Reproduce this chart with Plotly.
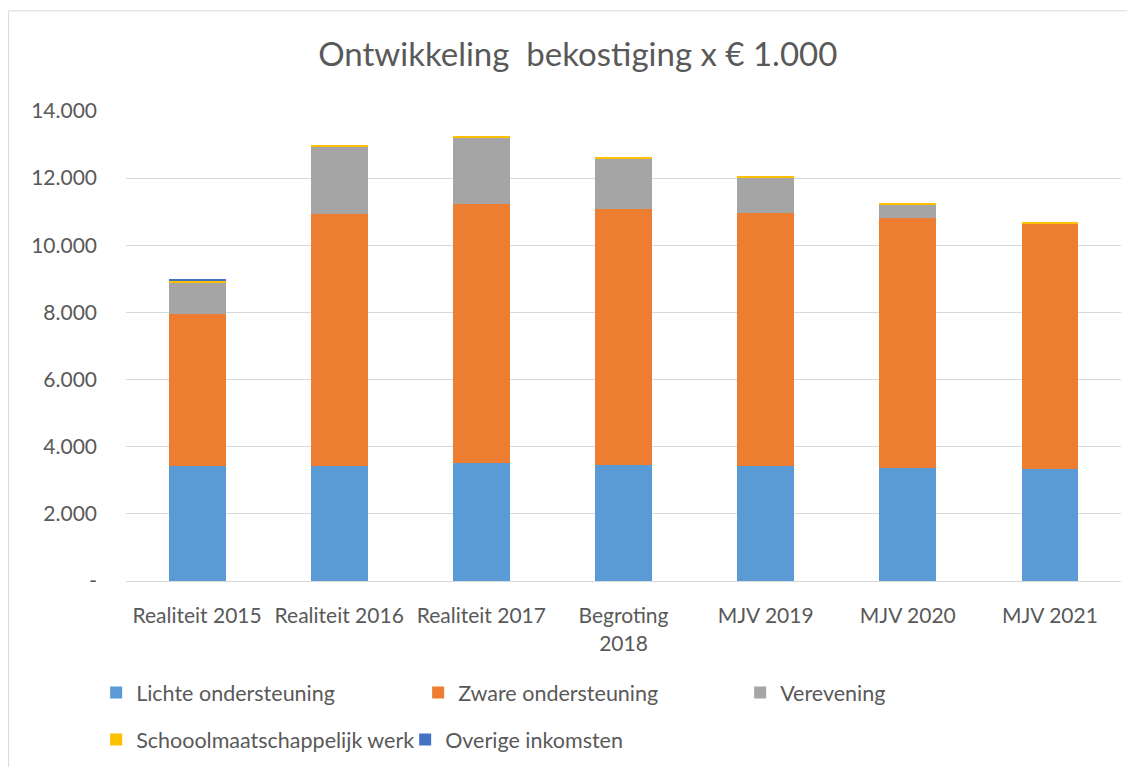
import plotly.graph_objects as go

categories = ["Realiteit 2015", "Realiteit 2016", "Realiteit 2017", "Begroting<br>2018",
              "MJV 2019", "MJV 2020", "MJV 2021"]
lichte = [3425, 3425, 3505, 3465, 3415, 3375, 3325]
zware = [4525, 7505, 7715, 7605, 7555, 7425, 7325]
verevening = [950, 2000, 1980, 1500, 1040, 400, 0]
smw = [50, 70, 70, 60, 40, 40, 40]
overige = [60, 0, 0, 0, 0, 0, 0]

tick_vals = [0, 2000, 4000, 6000, 8000, 10000, 12000, 14000]
tick_text = ["-", "2.000", "4.000", "6.000", "8.000", "10.000", "12.000", "14.000"]

series = [
    ("Lichte ondersteuning", lichte, "#5B9BD5", "legend"),
    ("Zware ondersteuning", zware, "#ED7D31", "legend"),
    ("Verevening", verevening, "#A5A5A5", "legend"),
    ("Schooolmaatschappelijk werk", smw, "#FFC000", "legend2"),
    ("Overige inkomsten", overige, "#4472C4", "legend2"),
]

FONT = "Lato, 'Open Sans', sans-serif"
TXT = "#595959"

fig = go.Figure()
for name, vals, color, lg in series:
    fig.add_trace(go.Bar(name=name, x=categories, y=vals, marker_color=color,
                         marker_line_width=0, legend=lg))

fig.update_layout(
    barmode="stack",
    bargap=0.6,
    width=1135, height=767,
    margin=dict(l=118, r=22, t=103, b=194),
    paper_bgcolor="white", plot_bgcolor="white",
    font=dict(family=FONT, color=TXT, size=21),
    title=dict(text="Ontwikkeling  bekostiging x € 1.000", x=0.502, xanchor="center",
               y=0.939, yanchor="middle", font=dict(size=33, color=TXT, family=FONT)),
    xaxis=dict(showline=True, linecolor="#D9D9D9", linewidth=1,
               ticks="outside", ticklen=16, tickcolor="rgba(0,0,0,0)",
               tickfont=dict(size=21, color=TXT)),
    yaxis=dict(range=[0, 14000], tickvals=tick_vals, ticktext=tick_text,
               showgrid=True, gridcolor="#D9D9D9", gridwidth=1, zeroline=False,
               ticklabelstandoff=28, tickfont=dict(size=21, color=TXT)),
    legend=dict(orientation="h", x=-0.03, xanchor="left", y=-0.1936, yanchor="top",
                entrywidth=277, entrywidthmode="pixels", font=dict(size=21.5, color=TXT),
                traceorder="normal"),
    legend2=dict(orientation="h", x=-0.03, xanchor="left", y=-0.2936, yanchor="top",
                 entrywidth=264, entrywidthmode="pixels", font=dict(size=21.5, color=TXT),
                 traceorder="normal"),
    shapes=[
        dict(type="line", xref="paper", yref="paper", x0=-0.118, x1=1.2, y0=1.213, y1=1.213,
             line=dict(color="#D9D9D9", width=1)),
        dict(type="line", xref="paper", yref="paper", x0=-0.118, x1=-0.118, y0=1.213, y1=-0.5,
             line=dict(color="#D9D9D9", width=1)),
    ],
)

fig.write_html("out.html")
